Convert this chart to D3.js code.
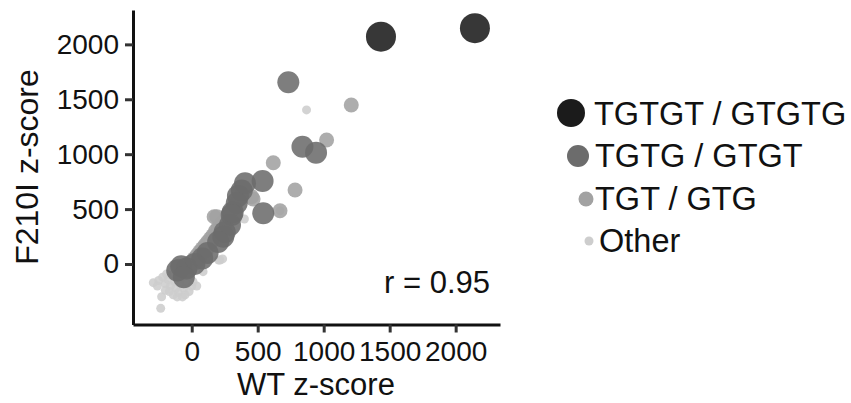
<!DOCTYPE html>
<html>
<head>
<meta charset="utf-8">
<script src="https://cdn.jsdelivr.net/npm/d3@7"></script>
<style>
  body { margin: 0; background: #fff; }
  svg { font-family: "Liberation Sans", Arial, sans-serif; }
</style>
</head>
<body>
<div id="chart"></div>
<script>
// series values [WT z-score, F210I z-score]
const tgtgt = [[1434, 2070], [2146, 2147]];

const tgtg = [
  [732, 1655], [839, 1068], [942, 1014], [537, 756], [542, 462], [404, 735],
  [379, 670], [350, 620], [341, 553], [310, 470], [303, 446], [290, 355],
  [250, 290], [239, 249], [200, 200], [120, 100], [80, 50], [20, 0],
  [-40, -40], [-80, -20], [-110, -60], [-60, -120]
];

const tgt = [
  [-60, -30], [-30, 0], [0, 20], [20, 50], [40, 80], [60, 110], [80, 140],
  [100, 170], [120, 200], [140, 230], [160, 260], [180, 300], [200, 330],
  [220, 360], [240, 390], [190, 431], [260, 420], [280, 460], [300, 480],
  [320, 520], [340, 560], [360, 600], [380, 640], [465, 592], [454, 613],
  [618, 922], [783, 674], [669, 485], [1022, 1129], [1209, 1448],
  [-100, -20], [-40, -60], [30, 10], [110, 120], [150, 200], [250, 350],
  [170, 430], [60, 60]
];

const other = [
  [-291, -170], [-228, -298], [-235, -404], [38, -200], [86, -70], [214, 36],
  [204, 36], [234, 46], [265, 346], [399, 410], [870, 1403], [669, 485],
  [-250, -150], [-220, -120], [-200, -180], [-180, -140], [-160, -200],
  [-150, -100], [-130, -160], [-120, -220], [-100, -260], [-90, -180],
  [-80, -130], [-60, -220], [-50, -280], [-40, -170], [-20, -250], [0, -200],
  [-10, -120], [-170, -250], [-140, -280], [-110, -300], [-200, -240],
  [-260, -200], [-190, -90], [-70, -300], [10, -160], [-30, -90]
];

const legendLabels = ["TGTGT / GTGTG", "TGTG / GTGT", "TGT / GTG", "Other"];
const xTicks = [0, 500, 1000, 1500, 2000];
const yTicks = [0, 500, 1000, 1500, 2000];
const rLabel = "r = 0.95";

// styles per group, drawn from smallest layer to top
const groups = [
  { data: other, r: 4.5, fill: "#cdcdcd" },
  { data: tgt, r: 7.5, fill: "#a2a2a2" },
  { data: tgtg, r: 11, fill: "#6c6c6c" },
  { data: tgtgt, r: 15, fill: "#1b1b1b" }
];

const width = 851;
const height = 403;

const svg = d3.select("#chart").append("svg")
  .attr("width", width)
  .attr("height", height);

const x = d3.scaleLinear([-445, 2336], [133, 500]);
const y = d3.scaleLinear([-551, 2313], [324.5, 10]);

// points
const plot = svg.append("g");
groups.forEach((g) => {
  plot.append("g")
    .selectAll("circle")
    .data(g.data)
    .join("circle")
    .attr("cx", (d) => x(d[0]))
    .attr("cy", (d) => y(d[1]))
    .attr("r", g.r)
    .attr("fill", g.fill)
    .attr("fill-opacity", 0.88);
});

// axes
const fmt = d3.format("d");
const xAxis = d3.axisBottom(x).tickValues(xTicks).tickFormat(fmt)
  .tickSize(8).tickSizeOuter(0).tickPadding(9);
const yAxis = d3.axisLeft(y).tickValues(yTicks).tickFormat(fmt)
  .tickSize(8).tickSizeOuter(0).tickPadding(6);

const styleAxis = (g) => {
  g.select(".domain").attr("stroke", "#111").attr("stroke-width", 3);
  g.selectAll(".tick line").attr("stroke", "#333").attr("stroke-width", 3);
  g.selectAll(".tick text").attr("fill", "#111").attr("font-size", 28)
    .attr("font-family", "Liberation Sans, Arial, sans-serif");
};

svg.append("g")
  .attr("transform", `translate(0,${y.range()[0]})`)
  .call(xAxis)
  .call(styleAxis);

svg.append("g")
  .attr("transform", `translate(${x.range()[0]},0)`)
  .call(yAxis)
  .call(styleAxis);

// axis titles
svg.append("text")
  .attr("x", 316)
  .attr("y", 395)
  .attr("text-anchor", "middle")
  .attr("font-size", 31)
  .attr("fill", "#111")
  .text("WT z-score");

svg.append("text")
  .attr("transform", "translate(38,167) rotate(-90)")
  .attr("text-anchor", "middle")
  .attr("font-size", 32)
  .attr("fill", "#111")
  .text("F210I z-score");

// correlation
svg.append("text")
  .attr("x", 490)
  .attr("y", 293)
  .attr("text-anchor", "end")
  .attr("font-size", 31)
  .attr("fill", "#111")
  .text(rLabel);

// legend
const legendPos = [
  { cx: 571, cy: 113, tx: 594, ty: 125 },
  { cx: 578, cy: 156, tx: 595, ty: 167 },
  { cx: 586, cy: 199, tx: 595, ty: 210 },
  { cx: 589, cy: 241, tx: 599, ty: 252 }
];
const legendGroups = groups.slice().reverse();

const legend = svg.append("g")
  .selectAll("g")
  .data(legendLabels)
  .join("g");

legend.append("circle")
  .attr("cx", (d, i) => legendPos[i].cx)
  .attr("cy", (d, i) => legendPos[i].cy)
  .attr("r", (d, i) => (i === 0 ? 14 : legendGroups[i].r))
  .attr("fill", (d, i) => legendGroups[i].fill);

legend.append("text")
  .attr("x", (d, i) => legendPos[i].tx)
  .attr("y", (d, i) => legendPos[i].ty)
  .attr("font-size", 32.5)
  .attr("fill", "#111")
  .text((d) => d);
</script>
</body>
</html>
